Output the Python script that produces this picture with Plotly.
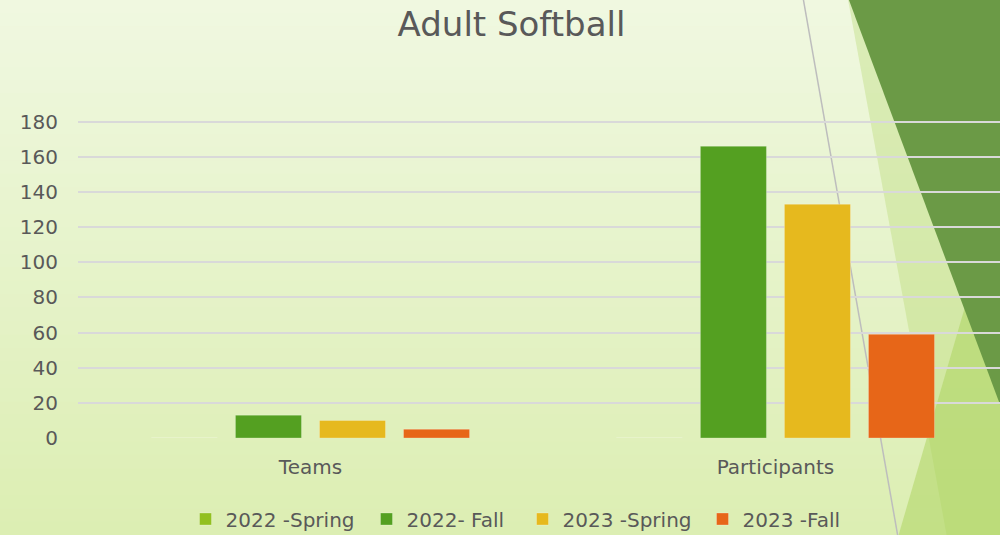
import plotly.graph_objects as go

categories = ["Teams", "Participants"]
series_names = ["2022 -Spring", "2022- Fall", "2023 -Spring", "2023 -Fall"]
spring_2022 = [0, 0]
fall_2022 = [13, 166]
spring_2023 = [10, 133]
fall_2023 = [5, 59]
series_values = [spring_2022, fall_2022, spring_2023, fall_2023]
series_colors = ["#92C020", "#54A021", "#E6B91E", "#E76618"]
y_ticks = [0, 20, 40, 60, 80, 100, 120, 140, 160, 180]

FONT = "Tahoma, 'DejaVu Sans', sans-serif"
TXT = "#595959"

# plot area in pixels (for decoration placement)
YMAX = 181.5
L, R, B = 78, 1000, 438
T = B - (B - 122) * YMAX / 180


def px_x(px):
    return (px - L) / (R - L)


def px_y(py):
    return (B - py) / (B - T)


def path(points):
    s = "M " + " L ".join(f"{px_x(x):.5f},{px_y(y):.5f}" for x, y in points) + " Z"
    return s


shapes = []
# vertical background gradient
top_c = (240, 248, 225)
mid_c = (230, 243, 202)
bot_c = (220, 238, 178)
n = 40
for i in range(n):
    y0 = 535 * i / n
    y1 = 535 * (i + 1) / n + 0.5
    t = (i + 0.5) / n
    if t < 0.5:
        a, b, tt = top_c, mid_c, t / 0.5
    else:
        a, b, tt = mid_c, bot_c, (t - 0.5) / 0.5
    c = tuple(round(a[k] + (b[k] - a[k]) * tt) for k in range(3))
    shapes.append(dict(type="rect", xref="paper", yref="paper", layer="below",
                       x0=px_x(-2), x1=px_x(1002), y0=px_y(y1), y1=px_y(y0),
                       fillcolor=f"rgb{c}", line=dict(width=0)))

# decorative triangles
shapes.append(dict(type="path", xref="paper", yref="paper", layer="below",
                   path=path([(848, 0), (1002, 0), (1002, 537), (947, 537)]),
                   fillcolor="rgba(180,215,110,0.35)", line=dict(width=0)))
shapes.append(dict(type="path", xref="paper", yref="paper", layer="below",
                   path=path([(898, 537), (1002, 180), (1002, 537)]),
                   fillcolor="rgba(170,210,90,0.5)", line=dict(width=0)))
shapes.append(dict(type="path", xref="paper", yref="paper", layer="below",
                   path=path([(848, -2), (1002, -2), (1002, 410)]),
                   fillcolor="#6B9A46", line=dict(width=0)))
shapes.append(dict(type="line", xref="paper", yref="paper", layer="below",
                   x0=px_x(803), y0=px_y(-2), x1=px_x(898), y1=px_y(537),
                   line=dict(color="#BDBDBD", width=1.5)))

# legend item positions (pixels): marker left edge in reference
legend_marker_left = [203, 384, 540, 720]
legend_names = ["legend", "legend2", "legend3", "legend4"]

fig = go.Figure()
for name, vals, col, lg in zip(series_names, series_values, series_colors, legend_names):
    fig.add_trace(go.Bar(
        x=categories, y=vals, name=name, legend=lg,
        marker=dict(color=col, line=dict(color="rgba(255,255,255,0.25)", width=1)),
    ))

legends = {}
for lg, ml in zip(legend_names, legend_marker_left):
    origin = ml - 17.5
    legends[lg] = dict(orientation="h", xref="container", yref="container",
                       x=origin / 1000, xanchor="left",
                       y=1 - 519 / 535, yanchor="middle",
                       font=dict(size=20, color=TXT, family=FONT),
                       bgcolor="rgba(0,0,0,0)", borderwidth=0, itemwidth=30)

fig.update_layout(
    width=1000, height=535,
    margin=dict(l=L, r=0, t=T, b=535 - B, autoexpand=False),
    paper_bgcolor="#E6F3CA",
    plot_bgcolor="rgba(0,0,0,0)",
    barmode="group",
    bargap=0.277,
    bargroupgap=0.214,
    shapes=shapes,
    font=dict(family=FONT, color=TXT, size=20),
    title=dict(text="Adult Softball", x=0.5115, xref="container", xanchor="center",
               y=1 - 24 / 535, yref="container", yanchor="middle",
               font=dict(size=34, color=TXT, family=FONT)),
    xaxis=dict(range=[-0.5, 1.483], showgrid=False, zeroline=False, showline=False,
               ticks="", tickfont=dict(size=20, color=TXT), ticklabelstandoff=15),
    yaxis=dict(range=[0, YMAX], tickvals=y_ticks, showgrid=True, gridcolor="#D9D9D9",
               gridwidth=1.5, zeroline=False, showline=False, ticks="",
               tickfont=dict(size=20, color=TXT), ticklabelstandoff=19),
    showlegend=True,
    **legends,
)

fig.write_html("out.html", config={"displayModeBar": False},
               post_script="document.body.style.margin='0';")
